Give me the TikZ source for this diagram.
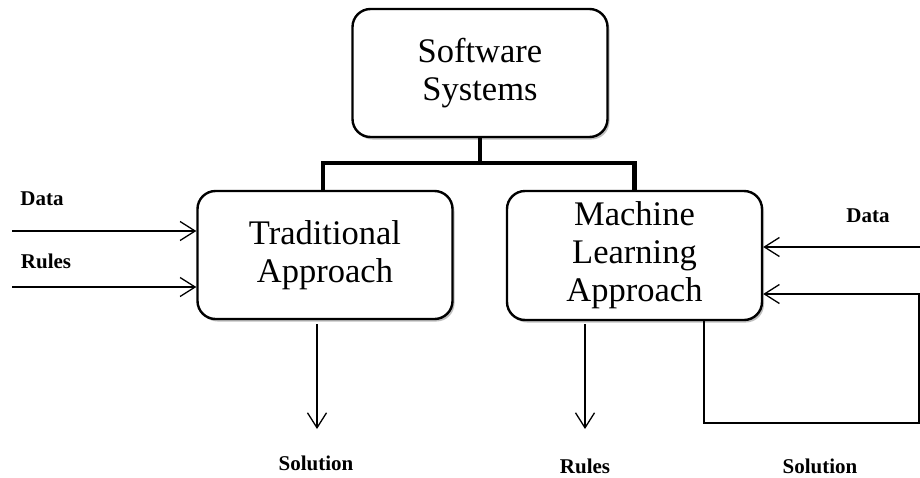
\documentclass[tikz,border=0pt]{standalone}
\usepackage{fontspec}
\setmainfont{Liberation Serif}
\usetikzlibrary{arrows.meta,shadows}
\begin{document}
\begin{tikzpicture}[x=1pt,y=-1pt,
  boxnode/.style={draw=black,line width=2.4pt,rounded corners=18pt,fill=white,
    minimum width=255pt,minimum height=128pt,align=center,
    font=\fontsize{34.5}{38}\selectfont,
    drop shadow={shadow xshift=2pt,shadow yshift=-2.5pt,opacity=0.25,fill=black}},
  lbl/.style={font=\fontsize{21}{24}\selectfont\bfseries,inner sep=0pt},
  barline/.style={line width=4.5pt},
  arr/.style={line width=1.3pt,-{Straight Barb[length=15pt,width=19pt,line width=1.3pt]}},
  thin/.style={line width=1.3pt}]
\useasboundingbox (0,0) rectangle (920,477);
% boxes
\node[boxnode] (ss) at (480,73) {Software\\Systems};
\node[boxnode] (ta) at (325,255) {Traditional\\Approach};
\node[boxnode,minimum height=129pt] (ml) at (634.5,255.5) {Machine\\Learning\\Approach};
% tree connector
\coordinate (j) at (480,163);
\draw[barline] (ss.south) -- (j);
\draw[barline] ([xshift=-2pt]ta.north) |- (j) -| (ml.north);
% labels
\node[lbl] (ldata) at (42,199) {Data};
\node[lbl] (lrules) at (46,261) {Rules};
\node[lbl] (rdata) at (868,216) {Data};
\node[lbl] (sol1) at (316,463) {Solution};
\node[lbl] (rules2) at (585,466) {Rules};
\node[lbl] (sol2) at (820,466) {Solution};
% left inputs
\coordinate (dl) at (12,231);
\coordinate (rl) at (12,287);
\draw[arr] (dl) -- (ta.west |- dl);
\draw[arr] (rl) -- (ta.west |- rl);
% right inputs
\coordinate (dr) at (921,247);
\coordinate (rr) at (919,294);
\draw[arr] (dr) -- (ml.east |- dr);
\draw[arr] (921,294) -- (ml.east |- rr);
% outputs
\coordinate (o1s) at (317,324);
\coordinate (o1e) at (317,429);
\draw[arr] (o1s) -- (o1e);
\coordinate (o2s) at (585,324);
\coordinate (o2e) at (585,429);
\draw[arr] (o2s) -- (o2e);
% feedback loop
\coordinate (la) at (704,423);
\coordinate (lb) at (919,423);
\draw[thin] (ml.south -| la) -- (la) -- (lb) -- (rr);
\end{tikzpicture}
\end{document}
